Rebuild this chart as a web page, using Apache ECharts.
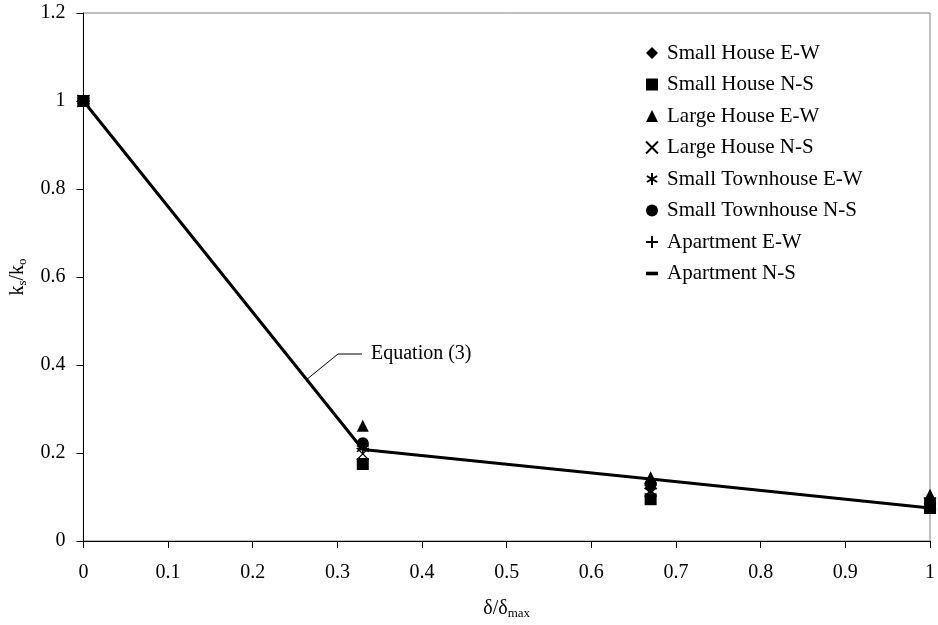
<!DOCTYPE html>
<html>
<head>
<meta charset="utf-8">
<script src="https://cdn.jsdelivr.net/npm/echarts@6/dist/echarts.min.js"></script>
<style>html,body{margin:0;padding:0;background:#fff}#c{width:938px;height:625px}</style>
</head>
<body>
<div id="c"></div>
<script>
var xValues = [0, 0.33, 0.67, 1];
var seriesNames = ['Small House E-W','Small House N-S','Large House E-W','Large House N-S','Small Townhouse E-W','Small Townhouse N-S','Apartment E-W','Apartment N-S'];
var smallHouseEW = [1, 0.22, 0.12, 0.085];
var smallHouseNS = [1, 0.175, 0.095, 0.075];
var largeHouseEW = [1, 0.262, 0.145, 0.105];
var largeHouseNS = [1, 0.198, 0.115, 0.085];
var smallTownEW = [1, 0.21, 0.125, 0.09];
var smallTownNS = [1, 0.222, 0.13, 0.09];
var apartmentEW = [1, 0.21, 0.12, 0.085];
var apartmentNS = [1, 0.21, 0.12, 0.085];
var equationLine = [1, 0.208, 0.141, 0.075];
var yTicks = [0, 0.2, 0.4, 0.6, 0.8, 1, 1.2];
var xTicks = [0, 0.1, 0.2, 0.3, 0.4, 0.5, 0.6, 0.7, 0.8, 0.9, 1];

var allValues = [smallHouseEW, smallHouseNS, largeHouseEW, largeHouseNS, smallTownEW, smallTownNS, apartmentEW, apartmentNS];
var symbols = [
  'diamond', 'rect', 'triangle',
  'path://M0,0L10,10M10,0L0,10',
  'path://M5,0L5,10M0.7,2.5L9.3,7.5M0.7,7.5L9.3,2.5',
  'circle',
  'path://M5,0L5,10M0,5L10,5',
  'path://M0,0L10,0L10,3L0,3Z'
];
var sizes = [12, 12, 12, 12, 12, 12, 12, [8, 2.5]];
var isStroke = [false, false, false, true, true, false, true, false];

function pts(v){ return xValues.map(function(x,i){ return [x, v[i]]; }); }

var FONT = '"Liberation Serif", "Times New Roman", serif';
var series = [{
  name: 'Equation (3)', type: 'line', data: pts(equationLine), symbol: 'none',
  lineStyle: {color: '#000', width: 3}, z: 5, silent: true
}];
allValues.forEach(function(v, k){
  series.push({
    name: seriesNames[k], type: 'scatter', data: pts(v),
    symbol: symbols[k], symbolSize: sizes[k], z: 6,
    itemStyle: isStroke[k] ? {color: '#000', borderColor: '#000', borderWidth: 1.4, opacity: 1} : {color: '#000', opacity: 1}
  });
});

var legendData = seriesNames.map(function(n, k){ return {name: n, icon: symbols[k]}; });

var chart = echarts.init(document.getElementById('c'));
chart.setOption({
  animation: false,
  backgroundColor: '#fff',
  grid: {left: 81, right: 5, top: 13, bottom: 78, show: true, borderColor: '#808080', borderWidth: 1},
  legend: {
    show: true, type: 'plain', selectedMode: false,
    data: legendData, orient: 'vertical', left: 640, top: 37, itemGap: 9.5,
    itemWidth: 12, itemHeight: 12,
    textStyle: {fontFamily: FONT, fontSize: 21, color: '#000', lineHeight: 22, padding: [0,0,0,4]}
  },
  xAxis: {
    type: 'value', min: 0, max: 1, interval: 0.1,
    name: 'δ/δ{s|max}', nameLocation: 'middle', nameGap: 56,
    nameTextStyle: {fontFamily: FONT, fontSize: 20, color: '#000', rich: {s: {fontFamily: FONT, fontSize: 13, padding: [10,0,0,0]}}},
    axisLine: {lineStyle: {color: '#000', width: 1}},
    axisTick: {show: true, inside: false, length: 7, lineStyle: {color: '#000'}},
    splitLine: {show: false},
    axisLabel: {fontFamily: FONT, fontSize: 20, color: '#000', margin: 22,
      formatter: function(v){ var r = Math.round(v*10)/10; return xTicks.indexOf(r) >= 0 ? String(r) : ''; }}
  },
  yAxis: {
    type: 'value', min: 0, max: 1.2, interval: 0.2,
    name: 'k{s|s}/k{s|o}', nameLocation: 'middle', nameGap: 42, nameRotate: 90,
    nameTextStyle: {fontFamily: FONT, fontSize: 20, color: '#000', rich: {s: {fontFamily: FONT, fontSize: 13, padding: [10,0,0,0]}}},
    axisLine: {show: true, lineStyle: {color: '#000', width: 1}},
    axisTick: {show: true, inside: false, length: 7, lineStyle: {color: '#000'}},
    splitLine: {show: false},
    axisLabel: {fontFamily: FONT, fontSize: 20, color: '#000', margin: 18,
      formatter: function(v){ var r = Math.round(v*10)/10; return yTicks.indexOf(r) >= 0 ? String(r) : ''; }}
  },
  graphic: [
    {type: 'polyline', shape: {points: [[306, 380], [338, 354], [362, 354]]}, style: {stroke: '#000', lineWidth: 1, fill: null}, z: 10},
    {type: 'text', left: 371, top: 344, style: {text: 'Equation (3)', fontFamily: FONT, fontSize: 20, fill: '#000'}, z: 10}
  ],
  series: series
});
</script>
</body>
</html>
